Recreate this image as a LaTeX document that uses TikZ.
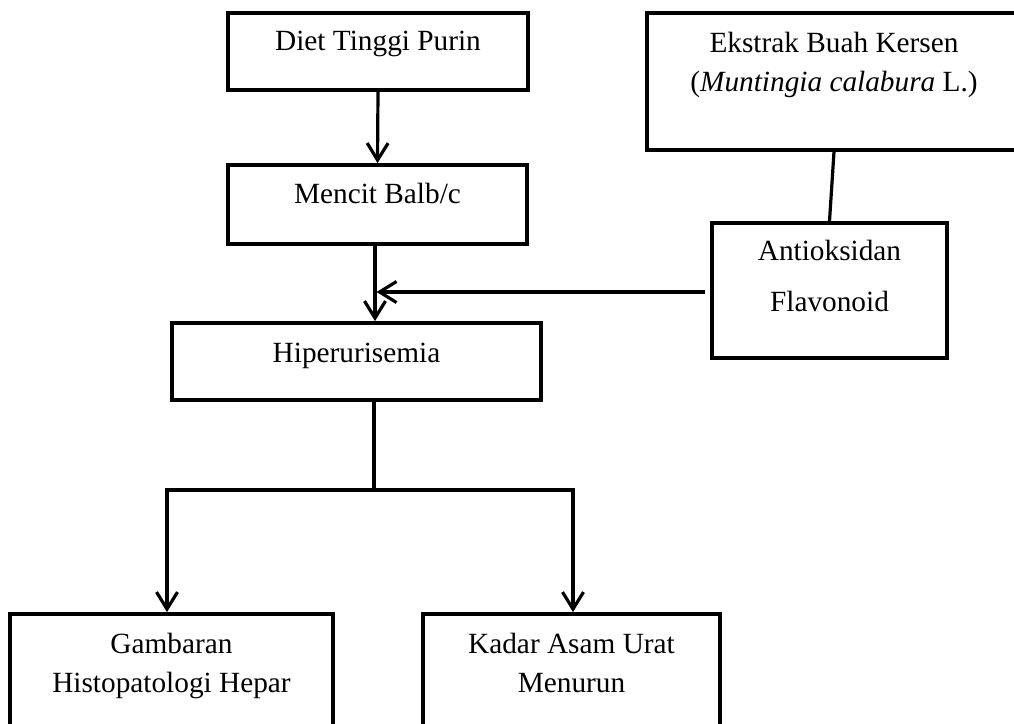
\documentclass[tikz,border=0pt]{standalone}
\usepackage{fontspec}
\setmainfont{Liberation Serif}
\usetikzlibrary{arrows.meta}
\begin{document}
\begin{tikzpicture}[x=0.5pt,y=-0.5pt,
  box/.style={draw=black,line width=1.9pt,rectangle,inner sep=0pt},
  txt/.style={anchor=base,inner sep=0pt,font=\fontsize{14.65}{17}\selectfont},
  conn/.style={line width=1.6pt,draw=black},
  arr/.style={conn,-{Straight Barb[length=8.5pt,width=10.5pt,line width=1.6pt]}}]
\useasboundingbox (0,0) rectangle (1014,724);
\clip (0,0) rectangle (1014,724);
\fill[white] (0,0) rectangle (1014,724);
% boxes
\node[box,minimum width=150pt,minimum height=38.5pt] (b1) at (378,51.5) {};
\node[box,minimum width=149.5pt,minimum height=39.5pt] (b2) at (377.5,204.5) {};
\node[box,minimum width=187pt,minimum height=68.5pt] (b3) at (834,81.5) {};
\node[box,minimum width=117.5pt,minimum height=67.5pt] (b4) at (829.5,290.5) {};
\node[box,minimum width=184.5pt,minimum height=38.5pt] (b5) at (356.5,361.5) {};
\node[box,minimum width=161.5pt,minimum height=66pt] (b6) at (171.5,680) {};
\node[box,minimum width=148.5pt,minimum height=66pt] (b7) at (571.5,680) {};
% texts
\node[txt] (t1) at (378,50) {Diet Tinggi Purin};
\node[txt] (t2) at (377.5,203) {Mencit Balb/c};
\node[txt] (t3a) at (834,52) {Ekstrak Buah Kersen};
\node[txt] (t3b) at (834,91) {(\textit{Muntingia calabura} L.)};
\node[txt] (t4a) at (829.5,260) {Antioksidan};
\node[txt] (t4b) at (829.5,311) {Flavonoid};
\node[txt] (t5) at (356.5,362) {Hiperurisemia};
\node[txt] (t6a) at (171.5,653) {Gambaran};
\node[txt] (t6b) at (171.5,692) {Histopatologi Hepar};
\node[txt] (t7a) at (571.5,653) {Kadar Asam Urat};
\node[txt] (t7b) at (571.5,692) {Menurun};
% helper coordinates
\coordinate (mx) at (375,0);
\coordinate (join) at (376.5,292);
\coordinate (split) at (374,490);
\coordinate (gl) at (167,490);
\coordinate (gr) at (573,490);
% connectors
\draw[arr] (b1.south) -- (b2.north);
\draw[arr] (b2.south -| mx) -- (b5.north -| mx);
\draw[conn] (b3.south) -- (b4.north);
\draw[arr] ([xshift=-2.5pt]b4.west |- join) -- (join);
\draw[conn] (b5.south -| split) -- (split);
\draw[conn,line cap=rect] (gl) -- (gr);
\draw[arr] (gl) -- (b6.north -| gl);
\draw[arr] (gr) -- (b7.north -| gr);
\end{tikzpicture}
\end{document}
